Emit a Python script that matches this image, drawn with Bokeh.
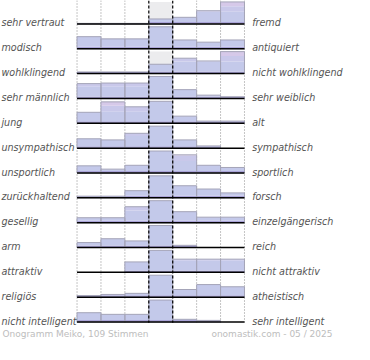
from bokeh.plotting import figure
from bokeh.models import Range1d, ColumnDataSource
from bokeh.core.properties import value
from bokeh.embed import file_html
from bokeh.resources import INLINE

# ---- data -------------------------------------------------------------
left_labels = ["sehr vertraut", "modisch", "wohlklingend", "sehr männlich", " jung",
               "unsympathisch", "unsportlich", "zurückhaltend", "gesellig", "arm",
               "attraktiv", "religiös", "nicht intelligent"]
right_labels = ["fremd", "antiquiert", "nicht wohlklingend", "sehr weiblich", "alt",
                "sympathisch", "sportlich", "forsch", "einzelgängerisch", "reich",
                "nicht attraktiv", "atheistisch", "sehr intelligent"]

# share of votes (%) on the 7-step scale, left pole -> right pole
vertraut_fremd = [1, 1, 1, 9, 12, 24, 46]
modisch_antiquiert = [22, 18, 18, 45, 16, 12, 16]
wohlklingend_nicht = [3, 3, 3, 17, 28, 23, 46]
maennlich_weiblich = [27, 28, 28, 45, 16, 6, 3]
jung_alt = [20, 39, 30, 45, 13, 4, 4]
unsympathisch_sympathisch = [17, 15, 27, 45, 15, 4, 0]
unsportlich_sportlich = [13, 7, 14, 45, 33, 14, 10]
zurueckhaltend_forsch = [3, 3, 13, 45, 22, 16, 9]
gesellig_einzelgaenger = [9, 9, 29, 45, 20, 10, 10]
arm_reich = [9, 16, 12, 45, 4, 0, 0]
attraktiv_nicht = [0, 0, 19, 45, 24, 24, 24]
religioes_atheistisch = [3, 5, 7, 45, 14, 23, 19]
intelligent_sehr = [17, 14, 14, 45, 5, 3, 0]

rows = [vertraut_fremd, modisch_antiquiert, wohlklingend_nicht, maennlich_weiblich,
        jung_alt, unsympathisch_sympathisch, unsportlich_sportlich, zurueckhaltend_forsch,
        gesellig_einzelgaenger, arm_reich, attraktiv_nicht, religioes_atheistisch,
        intelligent_sehr]

footer_left = "Onogramm Meiko, 109 Stimmen"
footer_right = "onomastik.com - 05 / 2025"

# ---- layout constants -------------------------------------------------
CAP = 40.0            # share that fills a whole row cell
FULL = 23.0 / 26.0    # cell height in row units
NCOL = 7
CENTER = 3
W, H = 354, 344

p = figure(width=W, height=H, output_backend="svg", toolbar_location=None,
           x_range=Range1d(-80 / 25, 290 / 25), y_range=Range1d((360 - 24.5) / 26, -24.5 / 26),
           min_border=0, outline_line_color=None, background_fill_color="white",
           border_fill_color="white")
p.axis.visible = False
p.xgrid.visible = False
p.ygrid.visible = False

nrows = len(rows)

# centre column background
p.quad(left=[CENTER] * nrows, right=[CENTER + 1] * nrows,
       top=[r - FULL for r in range(nrows)], bottom=list(range(nrows)),
       fill_color="#ececee", line_color=None)

# dotted grid lines
top_y = -24.5 / 26
bot_y = nrows - 1 + 0.03
for xv in [0, 1, 2, 5, 6, 7]:
    p.segment(x0=[xv], y0=[top_y], x1=[xv], y1=[bot_y], line_color="#8a8a8a",
              line_width=1, line_dash="1 2")

# bars as vertical colour bands (gradient imitation)
bands_side = [(0.0, 0.09, "#aaa4d8"), (0.09, 0.55, "#c4c9ea"),
              (0.55, 0.8, "#c9c8ea"), (0.8, 1.0, "#d6c9e9")]
bands_center = [(0.0, 0.09, "#aaa4d8"), (0.09, 1.0, "#c3c9ea")]
bl, br, bt, bb, bc = [], [], [], [], []
ol, orr, ot, ob = [], [], [], []
for r, vals in enumerate(rows):
    for c, v in enumerate(vals):
        h = min(v, CAP) / CAP  # fraction of cell
        if h <= 0:
            continue
        bands = bands_center if c == CENTER else bands_side
        for lo, hi, col in bands:
            if h > lo:
                bl.append(c); br.append(c + 1)
                bb.append(r - lo * FULL); bt.append(r - min(h, hi) * FULL)
                bc.append(col)
        ol.append(c); orr.append(c + 1); ob.append(r); ot.append(r - h * FULL)

p.quad(source=ColumnDataSource(dict(l=bl, r=br, t=bt, b=bb, c=bc)),
       left="l", right="r", top="t", bottom="b", fill_color="c", line_color=None)
p.quad(left=ol, right=orr, top=ot, bottom=ob, fill_alpha=0,
       line_color="#a4a4b8", line_width=1)

# baselines
p.segment(x0=[0] * nrows, y0=list(range(nrows)), x1=[NCOL] * nrows, y1=list(range(nrows)),
          line_color="black", line_width=1.5)

# dashed centre lines
for xv in [CENTER, CENTER + 1]:
    p.segment(x0=[xv], y0=[top_y], x1=[xv], y1=[bot_y], line_color="black",
              line_width=1.2, line_dash="3 2")

# labels
ty = [r - 1 / 26 for r in range(nrows)]
p.text(x=[(1 - 80) / 25] * nrows, y=ty, text=left_labels, text_font=value("DejaVu Sans"),
       text_font_style="italic", text_font_size="9.6px", text_color="#555555",
       text_baseline="alphabetic", text_align="left")
p.text(x=[(263 - 80) / 25] * nrows, y=ty, text=right_labels, text_font=value("DejaVu Sans"),
       text_font_style="italic", text_font_size="9.6px", text_color="#555555",
       text_baseline="alphabetic", text_align="left")

fy = (349.5 - 24.5) / 26
p.text(x=[(2 - 80) / 25], y=[fy], text=[footer_left], text_font=value("DejaVu Sans"),
       text_font_size="9px", text_color="#bdbdbd", text_baseline="alphabetic",
       text_align="left")
p.text(x=[(347 - 80) / 25], y=[fy], text=[footer_right], text_font=value("DejaVu Sans"),
       text_font_size="9px", text_color="#bdbdbd", text_baseline="alphabetic",
       text_align="right")

open("out.html", "w").write(file_html(p, INLINE))
